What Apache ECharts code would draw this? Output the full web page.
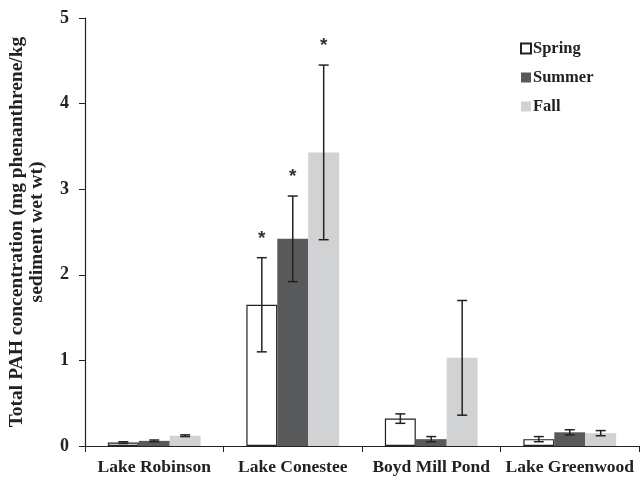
<!DOCTYPE html>
<html>
<head>
<meta charset="utf-8">
<script src="https://cdn.jsdelivr.net/npm/echarts@6/dist/echarts.min.js"></script>
<style>
  html, body { margin: 0; padding: 0; background: #fff; }
  #chart { width: 640px; height: 479px; }
</style>
</head>
<body>
<div id="chart"></div>
<script>
// Sites sampled
const sites = ['Lake Robinson', 'Lake Conestee', 'Boyd Mill Pond', 'Lake Greenwood'];

// Mean total PAH concentration per season (mg phenanthrene/kg sediment wet wt)
const spring = [0.04, 1.65, 0.32, 0.08];
const summer = [0.06, 2.42, 0.08, 0.16];
const fall   = [0.12, 3.43, 1.03, 0.15];

// Error (± range) per season
const springErr = [0.01, 0.55, 0.055, 0.03];
const summerErr = [0.01, 0.50, 0.030, 0.03];
const fallErr   = [0.01, 1.02, 0.670, 0.03];

// Significance flags (1 = asterisk above the bar)
const springSig = [0, 1, 0, 0];
const summerSig = [0, 1, 0, 0];
const fallSig   = [0, 1, 0, 0];

const yTicks = [0, 1, 2, 3, 4, 5];

const seasonNames = ['Spring', 'Summer', 'Fall'];
const seasonColors = ['#ffffff', '#58595b', '#d1d2d4'];
const means = [spring, summer, fall];
const errs = [springErr, summerErr, fallErr];
const sigs = [springSig, summerSig, fallSig];

const CAT_GAP = 0.33;
const serif = '"Liberation Serif", "Times New Roman", serif';

function errorSeries(k) {
  const data = sites.map((s, i) => [i, means[k][i], errs[k][i], sigs[k][i]]);
  return {
    type: 'custom',
    name: seasonNames[k] + ' error',
    z: 10,
    silent: true,
    data: data,
    renderItem: function (params, api) {
      const ci = api.value(0);
      const m = api.value(1);
      const e = api.value(2);
      const sig = api.value(3);
      const band = api.size([1, 0])[0];
      const bw = band * (1 - CAT_GAP) / 3;
      const base = api.coord([ci, m]);
      const x = base[0] + (k - 1) * bw;
      const yHi = api.coord([ci, m + e])[1];
      const yLo = api.coord([ci, m - e])[1];
      const cap = 5;
      const style = { stroke: '#222', lineWidth: 1.5 };
      const children = [
        { type: 'line', shape: { x1: x, y1: yHi, x2: x, y2: yLo }, style: style },
        { type: 'line', shape: { x1: x - cap, y1: yHi, x2: x + cap, y2: yHi }, style: style },
        { type: 'line', shape: { x1: x - cap, y1: yLo, x2: x + cap, y2: yLo }, style: style }
      ];
      if (sig) {
        children.push({
          type: 'text',
          style: {
            text: '*', x: x, y: yHi - 19,
            fill: '#333', font: 'bold 19px "Liberation Sans", Arial, sans-serif',
            textAlign: 'center', textVerticalAlign: 'middle'
          }
        });
      }
      return { type: 'group', children: children };
    }
  };
}

const barSeries = seasonNames.map((n, k) => ({
  type: 'bar',
  name: n,
  data: means[k],
  barGap: '0%',
  barCategoryGap: (CAT_GAP * 100) + '%',
  itemStyle: {
    color: seasonColors[k],
    borderColor: k === 0 ? '#222' : seasonColors[k],
    borderWidth: k === 0 ? 1.2 : 0
  },
  emphasis: { disabled: true }
}));

const chart = echarts.init(document.getElementById('chart'), null, { renderer: 'canvas' });
chart.setOption({
  animation: false,
  backgroundColor: '#ffffff',
  grid: { left: 85, right: 1, top: 18, bottom: 33, containLabel: false, outerBoundsMode: 'none' },
  legend: {
    data: seasonNames,
    orient: 'vertical',
    left: 515, top: 35,
    itemWidth: 10, itemHeight: 10, itemGap: 12,
    icon: 'rect',
    textStyle: { fontFamily: serif, fontWeight: 'bold', fontSize: 16.5, color: '#222', padding: [0, 0, 0, -3] }
  },
  xAxis: {
    type: 'category',
    data: sites,
    axisLine: { lineStyle: { color: '#222', width: 1.2 } },
    axisTick: { show: true, length: 6, lineStyle: { color: '#222' } },
    axisLabel: { fontFamily: serif, fontWeight: 'bold', fontSize: 17.5, color: '#222', margin: 12, interval: 0 }
  },
  yAxis: {
    type: 'value',
    min: yTicks[0], max: yTicks[yTicks.length - 1], interval: 1,
    name: 'Total PAH concentration (mg phenanthrene/kg\nsediment wet wt)',
    nameLocation: 'middle',
    nameGap: 38,
    nameTextStyle: { fontFamily: serif, fontWeight: 'bold', fontSize: 19.5, color: '#222', lineHeight: 20 },
    axisLine: { show: true, lineStyle: { color: '#222', width: 1.2 } },
    axisTick: { show: true, length: 6, lineStyle: { color: '#222' } },
    splitLine: { show: false },
    axisLabel: { fontFamily: serif, fontWeight: 'bold', fontSize: 18, color: '#222', margin: 16 }
  },
  series: barSeries.concat([errorSeries(0), errorSeries(1), errorSeries(2)])
});
</script>
</body>
</html>
